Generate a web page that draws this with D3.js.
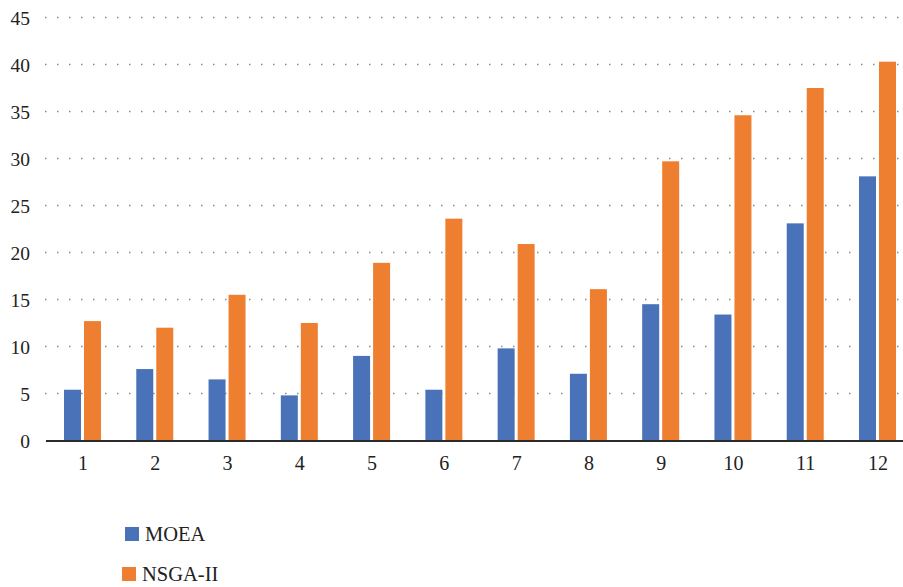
<!DOCTYPE html>
<html>
<head>
<meta charset="utf-8">
<script src="https://cdn.jsdelivr.net/npm/d3@7"></script>
<style>
  html, body { margin: 0; padding: 0; background: #fff; }
  svg { display: block; }
  text { font-family: "Liberation Serif", "DejaVu Serif", serif; fill: #222; }
</style>
</head>
<body>
<svg id="chart" width="903" height="587"></svg>
<script>
// Run numbers 1..12 and the two algorithms compared
const categories = ["1", "2", "3", "4", "5", "6", "7", "8", "9", "10", "11", "12"];
const seriesNames = ["MOEA", "NSGA-II"];
const moea  = [5.4, 7.6, 6.5, 4.8, 9.0, 5.4, 9.8, 7.1, 14.5, 13.4, 23.1, 28.1];
const nsga2 = [12.7, 12.0, 15.5, 12.5, 18.9, 23.6, 20.9, 16.1, 29.7, 34.6, 37.5, 40.3];
const yTicks = [0, 5, 10, 15, 20, 25, 30, 35, 40, 45];
const colors = ["#4A72B8", "#EE7F31"];

const svg = d3.select("#chart");

const y = d3.scaleLinear().domain([0, 45]).range([440.5, 17.5]);
const x0 = d3.scalePoint().domain(categories).range([82.5, 877.5]);
const x1 = d3.scaleBand().domain(seriesNames).range([-18.5, 18.5]).paddingInner(0.15);

// dotted horizontal gridlines
svg.append("g")
  .selectAll("line")
  .data(yTicks.filter(d => d > 0))
  .join("line")
  .attr("x1", 45).attr("x2", 903)
  .attr("y1", d => y(d)).attr("y2", d => y(d))
  .attr("stroke", "#8a8a8a")
  .attr("stroke-width", 1.3)
  .attr("stroke-dasharray", "1.5,10.5");

// grouped bars
const rows = categories.map((c, i) => ({ cat: c, values: [moea[i], nsga2[i]] }));
svg.append("g")
  .selectAll("g")
  .data(rows)
  .join("g")
  .attr("transform", d => `translate(${x0(d.cat)},0)`)
  .selectAll("rect")
  .data(d => d.values.map((v, j) => ({ key: seriesNames[j], v, j })))
  .join("rect")
  .attr("x", d => x1(d.key))
  .attr("width", x1.bandwidth())
  .attr("y", d => y(d.v))
  .attr("height", d => y(0) - y(d.v))
  .attr("fill", d => colors[d.j]);

// baseline
svg.append("line")
  .attr("x1", 46).attr("x2", 903)
  .attr("y1", y(0) + 0.5).attr("y2", y(0) + 0.5)
  .attr("stroke", "#2b2b2b")
  .attr("stroke-width", 2);

// y axis labels
const yAxis = svg.append("g")
  .attr("transform", "translate(30,0)")
  .call(d3.axisLeft(y).tickValues(yTicks).tickSize(0).tickPadding(0));
yAxis.select(".domain").remove();
yAxis.selectAll("text")
  .attr("font-size", 19.5)
  .attr("font-family", "Liberation Serif, serif")
  .attr("fill", "#222")
  .attr("dy", "0.34em");

// x axis labels
const xAxis = svg.append("g")
  .attr("transform", `translate(0,${y(0)})`)
  .call(d3.axisBottom(x0).tickSize(0).tickPadding(0));
xAxis.select(".domain").remove();
xAxis.selectAll("text")
  .attr("font-size", 20)
  .attr("font-family", "Liberation Serif, serif")
  .attr("fill", "#222")
  .attr("y", 29.5)
  .attr("dy", 0);

// legend
const legendItems = [
  { name: seriesNames[0], color: colors[0], sx: 125, sy: 527, tx: 145, ty: 541 },
  { name: seriesNames[1], color: colors[1], sx: 122, sy: 567, tx: 142, ty: 580.5 }
];
const legend = svg.append("g");
legend.selectAll("rect")
  .data(legendItems)
  .join("rect")
  .attr("x", d => d.sx).attr("y", d => d.sy)
  .attr("width", 14).attr("height", 14)
  .attr("fill", d => d.color);
legend.selectAll("text")
  .data(legendItems)
  .join("text")
  .attr("x", d => d.tx).attr("y", d => d.ty)
  .attr("font-size", 20.5)
  .text(d => d.name);
</script>
</body>
</html>
